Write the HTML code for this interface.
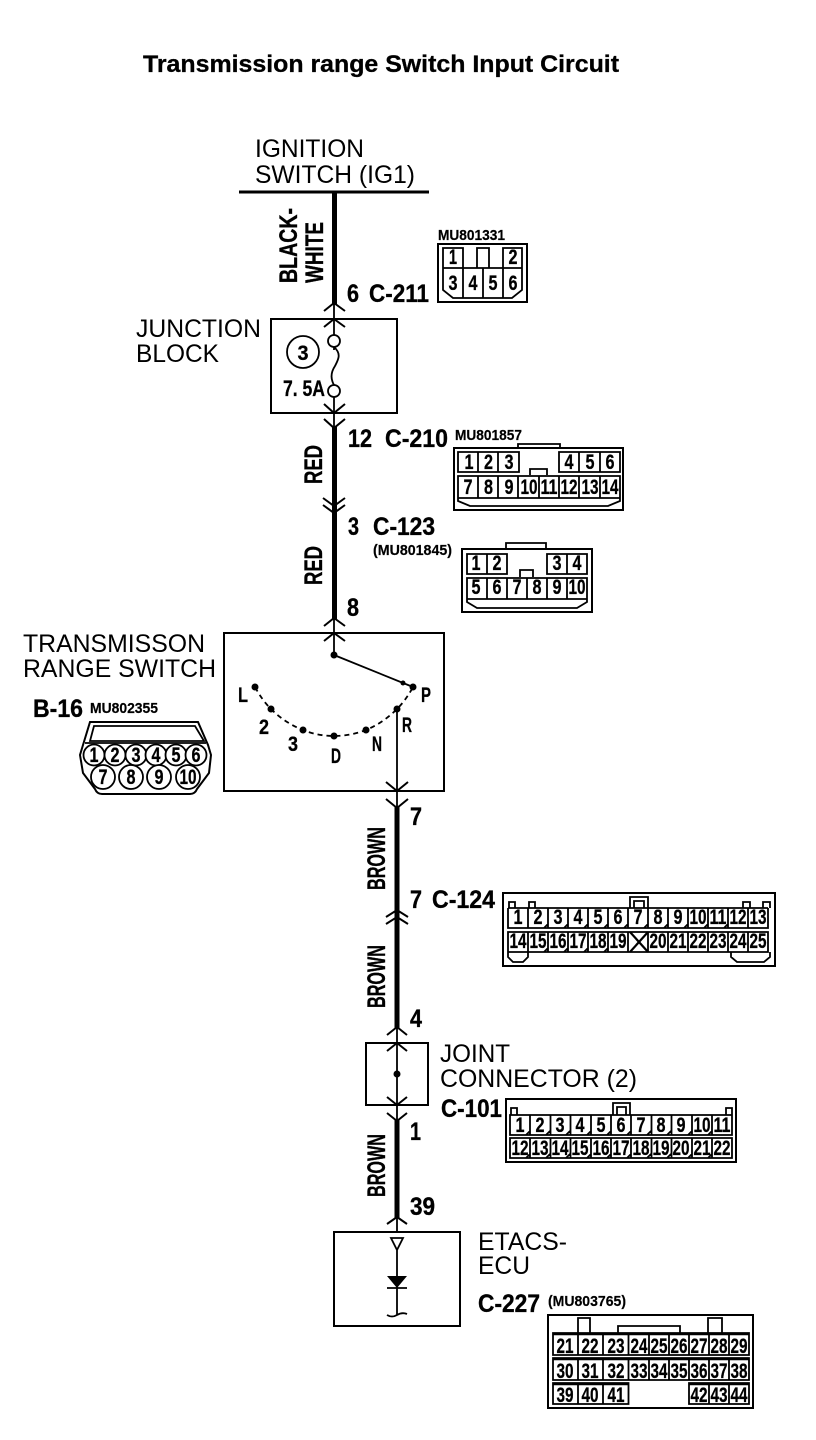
<!DOCTYPE html>
<html><head><meta charset="utf-8"><style>
html,body{margin:0;padding:0;background:#fff}
svg{display:block}
text{font-family:"Liberation Sans",sans-serif;fill:#000}
.n{font-size:25px}
.b{font-size:25px;font-weight:bold;stroke:#000;stroke-width:.35}
.m{font-size:15px;font-weight:bold;stroke:#000;stroke-width:.2}
.p{font-size:21px;font-weight:bold;text-anchor:middle;stroke:#000;stroke-width:.3}
.l{fill:none;stroke:#000;stroke-width:1.8}
.o{fill:none;stroke:#000;stroke-width:2}
</style></head><body>
<svg width="816" height="1440" viewBox="0 0 816 1440" xmlns="http://www.w3.org/2000/svg">
<rect width="816" height="1440" fill="#fff"/>
<text x="143" y="72" font-size="24" font-weight="bold" stroke="#000" stroke-width=".3" textLength="476" lengthAdjust="spacingAndGlyphs">Transmission range Switch Input Circuit</text>

<!-- wires -->
<path d="M239 192H429" stroke="#000" stroke-width="3" fill="none"/>
<path d="M334.5 192V305M334.5 426V620M397 806V1029M397 1120V1218" stroke="#000" stroke-width="5" fill="none"/>
<path d="M334 303V335M334 347V350M334 397V428M334 618V655M397 709V808M397 1027V1121M397 1217V1232" class="l"/>
<path d="M324 311L334 303L345 311M324 327L334 319L345 327M324 404L334 413L345 404M324 419L334 428L345 419M323 498L334 506L345 498M323 505L334 513L345 505M324 626L334 618L345 626M324 641L334 633L345 641M386 782L397 791L408 782M386 799L397 808L408 799M386 917L397 910L408 917M386 924L397 917L408 924M387 1035L397 1027L407 1035M387 1051L397 1043L407 1051M387 1097L397 1105L407 1097M387 1113L397 1121L407 1113M387 1224L397 1217L407 1224" class="l" style="stroke-width:2"/>

<text class="n" x="255" y="157" textLength="109" lengthAdjust="spacingAndGlyphs">IGNITION</text>
<text class="n" x="255" y="183" textLength="160" lengthAdjust="spacingAndGlyphs">SWITCH (IG1)</text>
<text class="b" transform="translate(297 283) rotate(-90)" textLength="75" lengthAdjust="spacingAndGlyphs">BLACK-</text>
<text class="b" transform="translate(323 283) rotate(-90)" textLength="61" lengthAdjust="spacingAndGlyphs">WHITE</text>
<text class="b" transform="translate(322 484) rotate(-90)" textLength="39" lengthAdjust="spacingAndGlyphs">RED</text>
<text class="b" transform="translate(322 585) rotate(-90)" textLength="39" lengthAdjust="spacingAndGlyphs">RED</text>
<text class="b" transform="translate(385 890) rotate(-90)" textLength="63" lengthAdjust="spacingAndGlyphs">BROWN</text>
<text class="b" transform="translate(385 1008) rotate(-90)" textLength="63" lengthAdjust="spacingAndGlyphs">BROWN</text>
<text class="b" transform="translate(385 1197) rotate(-90)" textLength="63" lengthAdjust="spacingAndGlyphs">BROWN</text>

<text class="b" x="347" y="302" textLength="12" lengthAdjust="spacingAndGlyphs">6</text>
<text class="b" x="369" y="302" textLength="60" lengthAdjust="spacingAndGlyphs">C-211</text>
<text class="b" x="348" y="447" textLength="24" lengthAdjust="spacingAndGlyphs">12</text>
<text class="b" x="385" y="447" textLength="63" lengthAdjust="spacingAndGlyphs">C-210</text>
<text class="b" x="348" y="535" textLength="11" lengthAdjust="spacingAndGlyphs">3</text>
<text class="b" x="373" y="535" textLength="62" lengthAdjust="spacingAndGlyphs">C-123</text>
<text class="b" x="347" y="616" textLength="12" lengthAdjust="spacingAndGlyphs">8</text>
<text class="b" x="410" y="825" textLength="12" lengthAdjust="spacingAndGlyphs">7</text>
<text class="b" x="410" y="908" textLength="12" lengthAdjust="spacingAndGlyphs">7</text>
<text class="b" x="432" y="908" textLength="63" lengthAdjust="spacingAndGlyphs">C-124</text>
<text class="b" x="410" y="1027" textLength="12" lengthAdjust="spacingAndGlyphs">4</text>
<text class="b" x="410" y="1140" textLength="11" lengthAdjust="spacingAndGlyphs">1</text>
<text class="b" x="410" y="1215" textLength="25" lengthAdjust="spacingAndGlyphs">39</text>
<text class="b" x="441" y="1117" textLength="61" lengthAdjust="spacingAndGlyphs">C-101</text>
<text class="b" x="478" y="1312" textLength="62" lengthAdjust="spacingAndGlyphs">C-227</text>
<text class="b" x="33" y="717" textLength="50" lengthAdjust="spacingAndGlyphs">B-16</text>

<text class="n" x="136" y="337" textLength="125" lengthAdjust="spacingAndGlyphs">JUNCTION</text>
<text class="n" x="136" y="362" textLength="83" lengthAdjust="spacingAndGlyphs">BLOCK</text>
<text class="n" x="23" y="652" textLength="182" lengthAdjust="spacingAndGlyphs">TRANSMISSON</text>
<text class="n" x="23" y="677" textLength="193" lengthAdjust="spacingAndGlyphs">RANGE SWITCH</text>
<text class="n" x="440" y="1062" textLength="70" lengthAdjust="spacingAndGlyphs">JOINT</text>
<text class="n" x="440" y="1087" textLength="197" lengthAdjust="spacingAndGlyphs">CONNECTOR (2)</text>
<text class="n" x="478" y="1250" textLength="89" lengthAdjust="spacingAndGlyphs">ETACS-</text>
<text class="n" x="478" y="1274" textLength="52" lengthAdjust="spacingAndGlyphs">ECU</text>

<text class="m" x="438" y="240" textLength="67" lengthAdjust="spacingAndGlyphs">MU801331</text>
<text class="m" x="455" y="440" textLength="67" lengthAdjust="spacingAndGlyphs">MU801857</text>
<text class="m" x="373" y="555" textLength="79" lengthAdjust="spacingAndGlyphs">(MU801845)</text>
<text class="m" x="90" y="713" textLength="68" lengthAdjust="spacingAndGlyphs">MU802355</text>
<text class="m" x="548" y="1306" textLength="78" lengthAdjust="spacingAndGlyphs">(MU803765)</text>

<!-- Junction block -->
<rect x="271" y="319" width="126" height="94" class="o"/>
<circle cx="334" cy="341" r="6" fill="#fff" stroke="#000" stroke-width="1.8"/>
<circle cx="334" cy="391" r="6" fill="#fff" stroke="#000" stroke-width="1.8"/>
<path d="M334 347C342 354 338 360 335 366C331 372 330 378 334 385" stroke="#000" stroke-width="1.8" fill="none"/>
<circle cx="303" cy="352" r="16" fill="none" stroke="#000" stroke-width="1.8"/>
<text class="p" x="303" y="360" textLength="11" lengthAdjust="spacingAndGlyphs">3</text>
<text x="283" y="396" font-size="22" font-weight="bold" stroke="#000" stroke-width=".3" textLength="42" lengthAdjust="spacingAndGlyphs">7. 5A</text>

<!-- Range switch -->
<rect x="224" y="633" width="220" height="158" class="o"/>
<path d="M334 655L413 687" stroke="#000" stroke-width="1.8"/>
<path d="M255 687Q262 700 271 709Q285 723 303 730Q318 736 334 736Q350 736 366 730Q383 723 397 709Q406 700 413 687" class="l" stroke-dasharray="5 4"/>
<g fill="#000"><circle cx="334" cy="655" r="3.5"/><circle cx="403" cy="683" r="2.5"/><circle cx="413" cy="687" r="3.5"/><circle cx="255" cy="687" r="3.5"/><circle cx="271" cy="709" r="3.5"/><circle cx="303" cy="730" r="3.5"/><circle cx="334" cy="736" r="3.5"/><circle cx="366" cy="730" r="3.5"/><circle cx="397" cy="709" r="3.5"/></g>
<g>
<text class="p" x="243" y="702" textLength="10" lengthAdjust="spacingAndGlyphs">L</text><text class="p" x="264" y="734" textLength="10" lengthAdjust="spacingAndGlyphs">2</text><text class="p" x="293" y="751" textLength="10" lengthAdjust="spacingAndGlyphs">3</text><text class="p" x="336" y="763" textLength="10" lengthAdjust="spacingAndGlyphs">D</text><text class="p" x="377" y="751" textLength="10" lengthAdjust="spacingAndGlyphs">N</text><text class="p" x="407" y="732" textLength="10" lengthAdjust="spacingAndGlyphs">R</text><text class="p" x="426" y="702" textLength="10" lengthAdjust="spacingAndGlyphs">P</text>
</g>

<!-- MU801331 -->
<rect x="438" y="244" width="89" height="58" class="o"/>
<path d="M443 248H463V268H443ZM477 248H489V268H477ZM503 248H522V268H503ZM443 268V290L453 298H512L522 290V268ZM463 268V298M483 268V298M503 268V298" class="l"/>
<text class="p" x="453" y="264" textLength="8" lengthAdjust="spacingAndGlyphs">1</text><text class="p" x="513" y="264" textLength="9" lengthAdjust="spacingAndGlyphs">2</text>
<text class="p" x="453" y="290" textLength="9" lengthAdjust="spacingAndGlyphs">3</text><text class="p" x="473" y="290" textLength="9" lengthAdjust="spacingAndGlyphs">4</text><text class="p" x="493" y="290" textLength="9" lengthAdjust="spacingAndGlyphs">5</text><text class="p" x="513" y="290" textLength="9" lengthAdjust="spacingAndGlyphs">6</text>

<!-- C-210 -->
<rect x="454" y="448" width="169" height="62" class="o"/>
<path d="M518 448V444H560V448M458 452H519V472H458ZM478 452V472M498 452V472M559 452H620V472H559ZM579 452V472M600 452V472M530 475V469H547V475M458 476H620V498H458ZM478 476V498M498 476V498M518 476V498M539 476V498M559 476V498M579 476V498M600 476V498M458 498V501L470 506H608L620 501V498" class="l"/>
<text class="p" x="469" y="469" textLength="9" lengthAdjust="spacingAndGlyphs">1</text><text class="p" x="488.500" y="469" textLength="9" lengthAdjust="spacingAndGlyphs">2</text><text class="p" x="509" y="469" textLength="9" lengthAdjust="spacingAndGlyphs">3</text><text class="p" x="569" y="469" textLength="9" lengthAdjust="spacingAndGlyphs">4</text><text class="p" x="590" y="469" textLength="9" lengthAdjust="spacingAndGlyphs">5</text><text class="p" x="610" y="469" textLength="9" lengthAdjust="spacingAndGlyphs">6</text>
<text class="p" x="468" y="494" textLength="9" lengthAdjust="spacingAndGlyphs">7</text><text class="p" x="488.500" y="494" textLength="9" lengthAdjust="spacingAndGlyphs">8</text><text class="p" x="509" y="494" textLength="9" lengthAdjust="spacingAndGlyphs">9</text><text class="p" x="529" y="494" textLength="17" lengthAdjust="spacingAndGlyphs">10</text><text class="p" x="549" y="494" textLength="17" lengthAdjust="spacingAndGlyphs">11</text><text class="p" x="569" y="494" textLength="17" lengthAdjust="spacingAndGlyphs">12</text><text class="p" x="590" y="494" textLength="17" lengthAdjust="spacingAndGlyphs">13</text><text class="p" x="610" y="494" textLength="17" lengthAdjust="spacingAndGlyphs">14</text>

<!-- C-123 -->
<rect x="462" y="549" width="130" height="63" class="o"/>
<path d="M506 549V543H546V549M467 554H507V574H467ZM487 554V574M547 554H587V574H547ZM567 554V574M520 577V570H533V577M467 578H587V599H467ZM487 578V599M507 578V599M527 578V599M547 578V599M567 578V599M467 599V602L477 608H577L587 602V599" class="l"/>
<text class="p" x="476" y="570" textLength="9" lengthAdjust="spacingAndGlyphs">1</text><text class="p" x="497" y="570" textLength="9" lengthAdjust="spacingAndGlyphs">2</text><text class="p" x="557" y="570" textLength="9" lengthAdjust="spacingAndGlyphs">3</text><text class="p" x="577" y="570" textLength="9" lengthAdjust="spacingAndGlyphs">4</text>
<text class="p" x="476" y="594" textLength="9" lengthAdjust="spacingAndGlyphs">5</text><text class="p" x="497" y="594" textLength="9" lengthAdjust="spacingAndGlyphs">6</text><text class="p" x="517" y="594" textLength="9" lengthAdjust="spacingAndGlyphs">7</text><text class="p" x="537" y="594" textLength="9" lengthAdjust="spacingAndGlyphs">8</text><text class="p" x="557" y="594" textLength="9" lengthAdjust="spacingAndGlyphs">9</text><text class="p" x="577" y="594" textLength="17" lengthAdjust="spacingAndGlyphs">10</text>

<!-- B-16 -->
<path d="M90 722H198L208 745L211 755L209 773L197 789Q195 794 190 794H102Q97 794 95 789L83 773L80 755L83 745Z" fill="none" stroke="#000" stroke-width="2"/>
<path d="M94 726H195L204 741H90ZM85 743H206" class="l"/>
<g fill="#fff" stroke="#000" stroke-width="1.8"><circle cx="94" cy="755" r="10.500"/><circle cx="115" cy="755" r="10.500"/><circle cx="136" cy="755" r="10.500"/><circle cx="156" cy="755" r="10.500"/><circle cx="176" cy="755" r="10.500"/><circle cx="196" cy="755" r="10.500"/><circle cx="103" cy="777" r="12"/><circle cx="131" cy="777" r="12"/><circle cx="159" cy="777" r="12"/><circle cx="188" cy="777" r="12"/></g>
<text class="p" x="94" y="762" textLength="9" lengthAdjust="spacingAndGlyphs">1</text><text class="p" x="115" y="762" textLength="9" lengthAdjust="spacingAndGlyphs">2</text><text class="p" x="136" y="762" textLength="9" lengthAdjust="spacingAndGlyphs">3</text><text class="p" x="156" y="762" textLength="9" lengthAdjust="spacingAndGlyphs">4</text><text class="p" x="176" y="762" textLength="9" lengthAdjust="spacingAndGlyphs">5</text><text class="p" x="196" y="762" textLength="9" lengthAdjust="spacingAndGlyphs">6</text>
<text class="p" x="103" y="784" textLength="9" lengthAdjust="spacingAndGlyphs">7</text><text class="p" x="131" y="784" textLength="9" lengthAdjust="spacingAndGlyphs">8</text><text class="p" x="159" y="784" textLength="9" lengthAdjust="spacingAndGlyphs">9</text><text class="p" x="188" y="784" textLength="17" lengthAdjust="spacingAndGlyphs">10</text>

<!-- C-124 -->
<rect x="503" y="893" width="272" height="73" class="o"/>
<path d="M508 908H768M508 908V928H768V908M528 908V928M548 908V928M568 908V928M588 908V928M608 908V928M628 908V928M648 908V928M668 908V928M688 908V928M708 908V928M728 908V928M748 908V928M508 932H768V952H508ZM528 932V952M548 932V952M568 932V952M588 932V952M608 932V952M628 932V952M648 932V952M668 932V952M688 932V952M708 932V952M728 932V952M748 932V952M630 908V897H648V908M634 908V901H644V908M509 908V902H515V908M529 908V902H535V908M743 908V902H750V908M763 908V902H770V908M508 952V957L513 962H523L528 957V952M731 952V957L737 962H764L770 957V952M544 928l4-4M564 928l4-4M584 928l4-4M604 928l4-4M624 928l4-4M644 928l4-4M664 928l4-4M684 928l4-4M704 928l4-4M724 928l4-4M544 952l4-4M564 952l4-4M584 952l4-4M604 952l4-4" class="l"/>
<path d="M630 932L648 952M648 932L630 952" stroke="#000" stroke-width="2.2" fill="none"/>
<text class="p" x="518" y="924" textLength="9" lengthAdjust="spacingAndGlyphs">1</text><text class="p" x="538" y="924" textLength="9" lengthAdjust="spacingAndGlyphs">2</text><text class="p" x="558" y="924" textLength="9" lengthAdjust="spacingAndGlyphs">3</text><text class="p" x="578" y="924" textLength="9" lengthAdjust="spacingAndGlyphs">4</text><text class="p" x="598" y="924" textLength="9" lengthAdjust="spacingAndGlyphs">5</text><text class="p" x="618" y="924" textLength="9" lengthAdjust="spacingAndGlyphs">6</text><text class="p" x="638" y="924" textLength="9" lengthAdjust="spacingAndGlyphs">7</text><text class="p" x="658" y="924" textLength="9" lengthAdjust="spacingAndGlyphs">8</text><text class="p" x="678" y="924" textLength="9" lengthAdjust="spacingAndGlyphs">9</text><text class="p" x="698" y="924" textLength="17" lengthAdjust="spacingAndGlyphs">10</text><text class="p" x="718" y="924" textLength="17" lengthAdjust="spacingAndGlyphs">11</text><text class="p" x="738" y="924" textLength="17" lengthAdjust="spacingAndGlyphs">12</text><text class="p" x="758" y="924" textLength="17" lengthAdjust="spacingAndGlyphs">13</text>
<text class="p" x="518" y="948" textLength="17" lengthAdjust="spacingAndGlyphs">14</text><text class="p" x="538" y="948" textLength="17" lengthAdjust="spacingAndGlyphs">15</text><text class="p" x="558" y="948" textLength="17" lengthAdjust="spacingAndGlyphs">16</text><text class="p" x="578" y="948" textLength="17" lengthAdjust="spacingAndGlyphs">17</text><text class="p" x="598" y="948" textLength="17" lengthAdjust="spacingAndGlyphs">18</text><text class="p" x="618" y="948" textLength="17" lengthAdjust="spacingAndGlyphs">19</text><text class="p" x="658" y="948" textLength="17" lengthAdjust="spacingAndGlyphs">20</text><text class="p" x="678" y="948" textLength="17" lengthAdjust="spacingAndGlyphs">21</text><text class="p" x="698" y="948" textLength="17" lengthAdjust="spacingAndGlyphs">22</text><text class="p" x="718" y="948" textLength="17" lengthAdjust="spacingAndGlyphs">23</text><text class="p" x="738" y="948" textLength="17" lengthAdjust="spacingAndGlyphs">24</text><text class="p" x="758" y="948" textLength="17" lengthAdjust="spacingAndGlyphs">25</text>

<!-- Joint connector -->
<rect x="366" y="1043" width="62" height="62" class="o"/>
<circle cx="397" cy="1074" r="3.5" fill="#000"/>

<!-- C-101 -->
<rect x="506" y="1099" width="230" height="63" class="o"/>
<path d="M510 1115H732V1135H510ZM530 1115V1135M550.500 1115V1135M570.500 1115V1135M591 1115V1135M611 1115V1135M631 1115V1135M651.500 1115V1135M671.500 1115V1135M692 1115V1135M712 1115V1135M510 1138H732V1158H510ZM530 1138V1158M550.500 1138V1158M570.500 1138V1158M591 1138V1158M611 1138V1158M631 1138V1158M651.500 1138V1158M671.500 1138V1158M692 1138V1158M712 1138V1158M613 1115V1103H630V1115M617 1115V1107H626V1115M511 1115V1108H517V1115M726 1115V1108H732V1115M526 1135l4-4M546 1135l4-4M566 1135l4-4M587 1135l4-4M607 1135l4-4M627 1135l4-4M647 1135l4-4M667 1135l4-4M688 1135l4-4M708 1135l4-4M526 1158l4-4M546 1158l4-4M566 1158l4-4M587 1158l4-4M607 1158l4-4M627 1158l4-4M647 1158l4-4M667 1158l4-4M688 1158l4-4M708 1158l4-4" class="l"/>
<text class="p" x="520" y="1132" textLength="9" lengthAdjust="spacingAndGlyphs">1</text><text class="p" x="540" y="1132" textLength="9" lengthAdjust="spacingAndGlyphs">2</text><text class="p" x="560" y="1132" textLength="9" lengthAdjust="spacingAndGlyphs">3</text><text class="p" x="580" y="1132" textLength="9" lengthAdjust="spacingAndGlyphs">4</text><text class="p" x="601" y="1132" textLength="9" lengthAdjust="spacingAndGlyphs">5</text><text class="p" x="621" y="1132" textLength="9" lengthAdjust="spacingAndGlyphs">6</text><text class="p" x="641" y="1132" textLength="9" lengthAdjust="spacingAndGlyphs">7</text><text class="p" x="661" y="1132" textLength="9" lengthAdjust="spacingAndGlyphs">8</text><text class="p" x="681" y="1132" textLength="9" lengthAdjust="spacingAndGlyphs">9</text><text class="p" x="702" y="1132" textLength="17" lengthAdjust="spacingAndGlyphs">10</text><text class="p" x="722" y="1132" textLength="17" lengthAdjust="spacingAndGlyphs">11</text>
<text class="p" x="520" y="1155" textLength="17" lengthAdjust="spacingAndGlyphs">12</text><text class="p" x="540" y="1155" textLength="17" lengthAdjust="spacingAndGlyphs">13</text><text class="p" x="560" y="1155" textLength="17" lengthAdjust="spacingAndGlyphs">14</text><text class="p" x="580" y="1155" textLength="17" lengthAdjust="spacingAndGlyphs">15</text><text class="p" x="601" y="1155" textLength="17" lengthAdjust="spacingAndGlyphs">16</text><text class="p" x="621" y="1155" textLength="17" lengthAdjust="spacingAndGlyphs">17</text><text class="p" x="641" y="1155" textLength="17" lengthAdjust="spacingAndGlyphs">18</text><text class="p" x="661" y="1155" textLength="17" lengthAdjust="spacingAndGlyphs">19</text><text class="p" x="681" y="1155" textLength="17" lengthAdjust="spacingAndGlyphs">20</text><text class="p" x="702" y="1155" textLength="17" lengthAdjust="spacingAndGlyphs">21</text><text class="p" x="722" y="1155" textLength="17" lengthAdjust="spacingAndGlyphs">22</text>

<!-- ETACS -->
<rect x="334" y="1232" width="126" height="94" class="o"/>
<path d="M391 1238H403L397 1250ZM397 1250V1315M387 1288H407M387 1315Q392 1318 397 1315T407 1314" class="l"/>
<path d="M387 1276H407L397 1288Z" fill="#000"/>

<!-- C-227 -->
<rect x="548" y="1315" width="205" height="93" class="o"/>
<path d="M578 1333V1318H590V1333M708 1333V1318H722V1333M618 1333V1326H680V1333M553 1333H749V1355H553ZM578 1333V1355M603 1333V1355M628.500 1333V1355M649 1333V1355M669 1333V1355M689 1333V1355M709 1333V1355M729 1333V1355M553 1358H749V1380H553ZM578 1358V1380M603 1358V1380M628.500 1358V1380M649 1358V1380M669 1358V1380M689 1358V1380M709 1358V1380M729 1358V1380M553 1383H628.500V1404H553ZM578 1383V1404M603 1383V1404M689 1383H749V1404H689ZM709 1383V1404M729 1383V1404" class="l"/>
<path d="M553 1334H749M553 1359H749M553 1384H628.500M689 1384H749" stroke="#000" stroke-width="2.6" fill="none"/>
<text class="p" x="565" y="1353" textLength="17" lengthAdjust="spacingAndGlyphs">21</text><text class="p" x="590" y="1353" textLength="17" lengthAdjust="spacingAndGlyphs">22</text><text class="p" x="616" y="1353" textLength="17" lengthAdjust="spacingAndGlyphs">23</text><text class="p" x="639" y="1353" textLength="17" lengthAdjust="spacingAndGlyphs">24</text><text class="p" x="659" y="1353" textLength="17" lengthAdjust="spacingAndGlyphs">25</text><text class="p" x="679" y="1353" textLength="17" lengthAdjust="spacingAndGlyphs">26</text><text class="p" x="699" y="1353" textLength="17" lengthAdjust="spacingAndGlyphs">27</text><text class="p" x="719" y="1353" textLength="17" lengthAdjust="spacingAndGlyphs">28</text><text class="p" x="739" y="1353" textLength="17" lengthAdjust="spacingAndGlyphs">29</text>
<text class="p" x="565" y="1378" textLength="17" lengthAdjust="spacingAndGlyphs">30</text><text class="p" x="590" y="1378" textLength="17" lengthAdjust="spacingAndGlyphs">31</text><text class="p" x="616" y="1378" textLength="17" lengthAdjust="spacingAndGlyphs">32</text><text class="p" x="639" y="1378" textLength="17" lengthAdjust="spacingAndGlyphs">33</text><text class="p" x="659" y="1378" textLength="17" lengthAdjust="spacingAndGlyphs">34</text><text class="p" x="679" y="1378" textLength="17" lengthAdjust="spacingAndGlyphs">35</text><text class="p" x="699" y="1378" textLength="17" lengthAdjust="spacingAndGlyphs">36</text><text class="p" x="719" y="1378" textLength="17" lengthAdjust="spacingAndGlyphs">37</text><text class="p" x="739" y="1378" textLength="17" lengthAdjust="spacingAndGlyphs">38</text>
<text class="p" x="565" y="1402" textLength="17" lengthAdjust="spacingAndGlyphs">39</text><text class="p" x="590" y="1402" textLength="17" lengthAdjust="spacingAndGlyphs">40</text><text class="p" x="616" y="1402" textLength="17" lengthAdjust="spacingAndGlyphs">41</text><text class="p" x="699" y="1402" textLength="17" lengthAdjust="spacingAndGlyphs">42</text><text class="p" x="719" y="1402" textLength="17" lengthAdjust="spacingAndGlyphs">43</text><text class="p" x="739" y="1402" textLength="17" lengthAdjust="spacingAndGlyphs">44</text>
</svg>
</body></html>
